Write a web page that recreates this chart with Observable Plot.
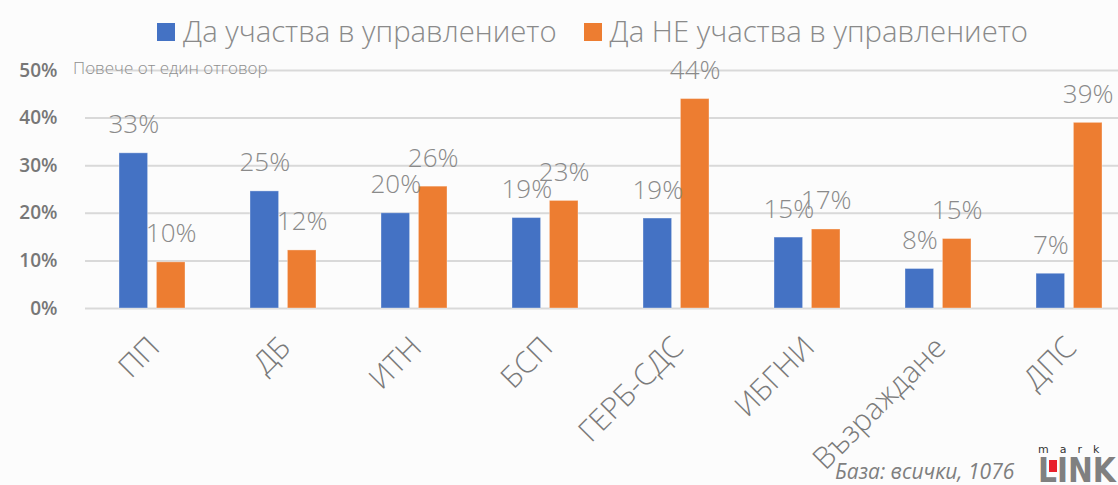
<!DOCTYPE html>
<html>
<head>
<meta charset="utf-8">
<script src="https://cdn.jsdelivr.net/npm/d3@7"></script>
<script src="https://cdn.jsdelivr.net/npm/@observablehq/plot@0.6"></script>
<style>
  html, body { margin: 0; padding: 0; background: #fcfcfc; }
  #wrap { position: relative; width: 1118px; height: 485px; overflow: hidden; font-family: "Open Sans", sans-serif; }
  #chart { position: absolute; left: 0; top: 0; width: 1137px; }
  .legend { position: absolute; top: 11px; left: 157px; display: flex; align-items: center; font-size: 29.3px; font-weight: 300; color: #8a8a8a; white-space: nowrap; }
  .legend .item { display: flex; align-items: center; margin-right: 27px; }
  .legend .sw { width: 18px; height: 18px; margin-right: 8px; margin-top: 2px; }
  .subtitle { position: absolute; left: 73px; top: 56px; font-size: 17px; font-weight: 300; color: #8f8f8f; white-space: nowrap; }
  .caption { position: absolute; left: 835px; top: 457px; font-size: 21px; font-style: italic; color: #7f7f7f; white-space: nowrap; }
  .logo { position: absolute; left: 1038px; top: 444px; color: #808080; }
  .logo .small { font-family: "DejaVu Sans", sans-serif; font-size: 11px; letter-spacing: 11px; line-height: 12px; color: #333; }
  .logo .big { position: relative; font-family: "DejaVu Sans Condensed", "DejaVu Sans", sans-serif; font-weight: bold; font-size: 33px; line-height: 30px; letter-spacing: 0px; }
  .logo .red { position: absolute; left: 11px; top: 4px; width: 8px; height: 12px; background: #e8202a; }
</style>
</head>
<body>
<div id="wrap">
  <div id="chart"></div>
  <div class="legend" id="legend"></div>
  <div class="subtitle" id="subtitle"></div>
  <div class="caption" id="caption"></div>
  <div class="logo"><div class="small">mark</div><div class="big">LINK<span class="red"></span></div></div>
</div>
<script>
// ---- data ----
const categories = ["ПП", "ДБ", "ИТН", "БСП", "ГЕРБ-СДС", "ИБГНИ", "Възраждане", "ДПС"];
const seriesNames = ["Да участва в управлението", "Да НЕ участва в управлението"];
const participate = [0.326, 0.246, 0.200, 0.190, 0.189, 0.149, 0.083, 0.073];
const notParticipate = [0.097, 0.122, 0.256, 0.226, 0.440, 0.166, 0.146, 0.390];
const yTicks = [0, 0.1, 0.2, 0.3, 0.4, 0.5];
const seriesColors = ["#4472c4", "#ed7d31"];
const subtitleText = "Повече от един отговор";
const captionText = "База: всички, 1076";

// ---- table ----
const table = [];
categories.forEach((c, i) => {
  table.push({category: c, series: seriesNames[0], value: participate[i]});
  table.push({category: c, series: seriesNames[1], value: notParticipate[i]});
});
const fmt = d3.format(".0%");
const s0 = table.filter(d => d.series === seriesNames[0]);
const s1 = table.filter(d => d.series === seriesNames[1]);

const half = 37.4; // inner layout of each pair

const chart = Plot.plot({
  width: 1137,
  height: 485,
  marginLeft: 85,
  marginRight: 1,
  marginTop: 70,
  marginBottom: 177,
  style: {background: "transparent", fontFamily: "Open Sans, sans-serif", overflow: "visible", maxWidth: "none"},
  x: {domain: categories, paddingInner: 0.493, paddingOuter: 0.2435, label: null},
  y: {domain: [0, 0.5], ticks: yTicks, tickFormat: fmt, label: null},
  color: {domain: seriesNames, range: seriesColors},
  marks: [
    Plot.ruleY(yTicks, {stroke: "#d9d9d9", strokeWidth: 2}),
    Plot.barY(s0, {x: "category", y: "value", fill: "series", insetRight: half, stroke: "#ffffff", strokeOpacity: 0.35, strokeWidth: 1}),
    Plot.barY(s1, {x: "category", y: "value", fill: "series", insetLeft: half, stroke: "#ffffff", strokeOpacity: 0.35, strokeWidth: 1}),
    Plot.text(s0, {x: "category", y: "value", text: d => fmt(d.value), dx: -18.7, dy: -20, lineAnchor: "bottom", fontSize: 26, fontWeight: 300, fill: "#8a8a8a"}),
    Plot.text(s1, {x: "category", y: "value", text: d => fmt(d.value), dx: 18.7, dy: -20, lineAnchor: "bottom", fontSize: 26, fontWeight: 300, fill: "#8a8a8a"}),
    Plot.axisY({ticks: yTicks, tickFormat: fmt, tickSize: 0, tickPadding: 28, fontSize: 19, fontWeight: 600, fill: "#777777", label: null}),
    Plot.axisX({tickRotate: -45, tickSize: 0, tickPadding: 34, fontSize: 30, fontWeight: 300, fill: "#7a7a7a", label: null, dx: 2})
  ]
});
document.getElementById("chart").appendChild(chart);

// legend
const legend = document.getElementById("legend");
seriesNames.forEach((name, i) => {
  const item = document.createElement("div");
  item.className = "item";
  const sw = document.createElement("div");
  sw.className = "sw";
  sw.style.background = seriesColors[i];
  const label = document.createElement("span");
  label.textContent = name;
  item.appendChild(sw);
  item.appendChild(label);
  legend.appendChild(item);
});
document.getElementById("subtitle").textContent = subtitleText;
document.getElementById("caption").textContent = captionText;
</script>
</body>
</html>
